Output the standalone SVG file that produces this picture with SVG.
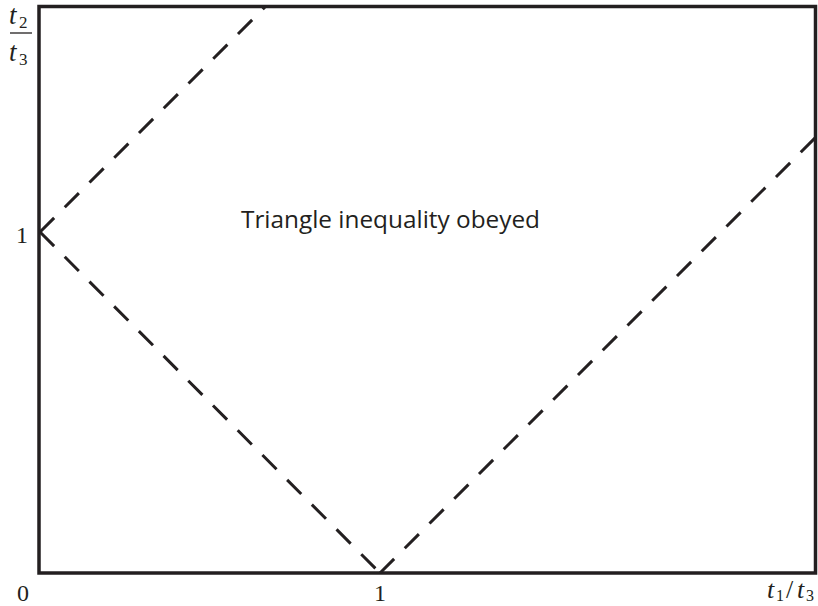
<svg xmlns="http://www.w3.org/2000/svg" width="818" height="606" viewBox="0 0 818 606">
<style>
.frame{fill:none;stroke:#231f20;stroke-width:3.5}
.dash{fill:none;stroke:#231f20;stroke-width:3;stroke-dasharray:20 15}
.m{font-family:"Liberation Serif",serif;fill:#231f20}
.mi{font-family:"Liberation Serif",serif;font-style:italic;fill:#231f20}
.lbl{font-family:"Open Sans","Liberation Sans",sans-serif;fill:#231f20}
</style>
<rect width="818" height="606" fill="#fff"/>
<g id="frame"><rect class="frame" x="39" y="6.5" width="776.5" height="566.5"/></g>
<g id="connectors">
<path class="dash" d="M40,232 L266,6"/>
<path class="dash" d="M40,232 L380,573"/>
<path class="dash" d="M380,573 L815,138"/>
</g>
<g id="label"><text class="lbl" x="241" y="228" font-size="24" textLength="299" lengthAdjust="spacingAndGlyphs">Triangle inequality obeyed</text></g>
<g id="axes">
<text class="m" x="23" y="601" font-size="24" text-anchor="middle">0</text>
<text class="m" x="380" y="601" font-size="24" text-anchor="middle">1</text>
<text class="m" x="22" y="243" font-size="24" text-anchor="middle">1</text>
<g id="xlabel">
<text class="mi" x="767" y="598" font-size="26">t</text>
<text class="m" x="776" y="601" font-size="16">1</text>
<text class="m" x="786" y="598" font-size="26">/</text>
<text class="mi" x="797" y="598" font-size="26">t</text>
<text class="m" x="806" y="601" font-size="16">3</text>
</g>
<g id="ylabel">
<text class="mi" x="9" y="24" font-size="27">t</text>
<text class="m" x="19" y="28" font-size="17">2</text>
<line x1="10" y1="33" x2="32" y2="33" stroke="#231f20" stroke-width="1.3"/>
<text class="mi" x="9" y="61" font-size="27">t</text>
<text class="m" x="19" y="65" font-size="17">3</text>
</g>
</g>
</svg>
